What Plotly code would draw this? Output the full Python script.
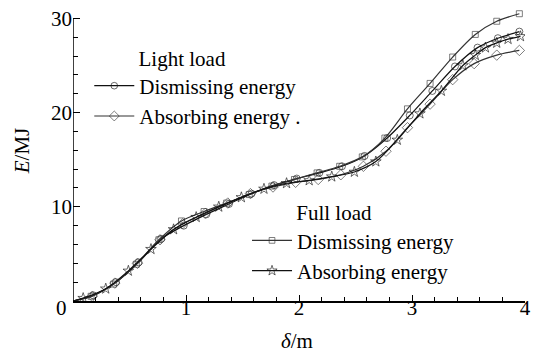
import plotly.graph_objects as go

# Displacement δ (m) and energy E (MJ) for each loading case
light_dis_x = [0, 0.18, 0.38, 0.58, 0.78, 0.98, 1.18, 1.38, 1.58, 1.78, 1.98, 2.18, 2.38,
               2.58, 2.78, 2.98, 3.18, 3.38, 3.58, 3.76, 3.95]
light_dis_e = [0, 0.6, 2.0, 4.1, 6.6, 8.0, 9.2, 10.3, 11.4, 12.3, 13.0, 13.6, 14.3,
               15.4, 17.3, 19.7, 22.3, 24.9, 26.9, 27.9, 28.6]

light_abs_x = [0, 0.17, 0.37, 0.57, 0.77, 0.97, 1.17, 1.37, 1.57, 1.77, 1.97, 2.17, 2.37,
               2.57, 2.77, 2.96, 3.16, 3.36, 3.55, 3.75, 3.95]
light_abs_e = [0, 0.5, 1.9, 4.0, 6.5, 8.2, 9.3, 10.4, 11.4, 12.1, 12.6, 12.9, 13.4,
               14.3, 15.9, 18.4, 20.9, 23.5, 25.2, 26.1, 26.6]

full_dis_x = [0, 0.16, 0.36, 0.56, 0.76, 0.96, 1.16, 1.36, 1.56, 1.76, 1.96, 2.16, 2.36,
              2.56, 2.76, 2.96, 3.16, 3.36, 3.56, 3.75, 3.95]
full_dis_e = [0, 0.5, 1.8, 3.9, 6.5, 8.5, 9.5, 10.4, 11.3, 12.2, 12.9, 13.6, 14.3,
              15.3, 17.3, 20.4, 23.1, 25.9, 28.3, 29.7, 30.5]

full_abs_x = [0, 0.09, 0.29, 0.49, 0.69, 0.89, 1.09, 1.29, 1.49, 1.69, 1.89, 2.09, 2.29,
              2.49, 2.68, 2.87, 3.07, 3.26, 3.45, 3.56, 3.65, 3.75, 3.85, 3.96]
full_abs_e = [0, 0.3, 1.3, 3.2, 5.5, 7.6, 8.9, 10.0, 11.0, 11.9, 12.5, 12.8, 13.2,
              13.7, 14.8, 17.1, 19.9, 22.3, 25.0, 26.1, 26.9, 27.4, 27.8, 28.1]

x_ticks = [1, 2, 3, 4]
y_ticks = [10, 20, 30]

SERIF = "Liberation Serif"
FS = 21


def sizes(xs, s):
    # no marker drawn at the origin point
    return [0 if v == 0 else s for v in xs]


fig = go.Figure()

series = [
    (light_dis_x, light_dis_e, "Dismissing energy", "circle-open", 7, "#111", "legend"),
    (light_abs_x, light_abs_e, "Absorbing energy .", "diamond-open", 8, "#333", "legend"),
    (full_dis_x, full_dis_e, "Dismissing energy", "square-open", 6, "#333", "legend2"),
    (full_abs_x, full_abs_e, "Absorbing energy", "star-open", 8, "#111", "legend2"),
]
for xs, ys, name, sym, ms, col, leg in series:
    fig.add_trace(go.Scatter(
        x=xs, y=ys, name=name, mode="lines+markers", legend=leg,
        line=dict(color=col, width=1.2, shape="spline", smoothing=0.8),
        marker=dict(symbol=sym, size=sizes(xs, ms), color=col, line=dict(width=0.9, color=col)),
    ))

# y range runs a little past 30 so the top of the full-load curve stays visible;
# the drawn axis line itself stops at 30
Y_TOP = 31
TOP = 16 - 9.5 * (Y_TOP - 30)
PH = 301 - TOP


def py(px):
    # pixel row -> paper fraction
    return (301 - px) / PH


fig.update_layout(
    width=544, height=354,
    margin=dict(l=73, r=19, t=TOP, b=53),
    paper_bgcolor="white", plot_bgcolor="white",
    showlegend=True,
    legend=dict(
        x=0.036, y=py(36), xanchor="left", yanchor="top",
        bgcolor="rgba(0,0,0,0)", itemwidth=40, tracegroupgap=0,
        title=dict(text="&nbsp;" * 9 + "Light load",
                   font=dict(family=SERIF, size=FS, color="black")),
        font=dict(family=SERIF, size=FS, color="black"),
    ),
    legend2=dict(
        x=0.385, y=py(192), xanchor="left", yanchor="top",
        bgcolor="rgba(0,0,0,0)", itemwidth=40, tracegroupgap=0,
        title=dict(text="&nbsp;" * 9 + "Full load",
                   font=dict(family=SERIF, size=FS, color="black")),
        font=dict(family=SERIF, size=FS, color="black"),
    ),
    xaxis=dict(
        range=[0, 4], tickvals=x_ticks, ticks="inside", ticklen=6, tickwidth=1,
        tickcolor="black", showline=True, linecolor="black", linewidth=1.5,
        showgrid=False, zeroline=False, ticklabelstandoff=-13,
        tickfont=dict(family=SERIF, size=FS, color="black"),
        minor=dict(dtick=0.2, ticks="inside", ticklen=4, tickcolor="black", showgrid=False),
    ),
    yaxis=dict(
        range=[0, Y_TOP], tickvals=y_ticks, ticks="inside", ticklen=7, tickwidth=1,
        tickcolor="black", showline=False,
        showgrid=False, zeroline=False,
        tickfont=dict(family=SERIF, size=FS, color="black"),
        minor=dict(dtick=2, ticks="inside", ticklen=5, tickcolor="black", showgrid=False),
    ),
)

# y axis line from 0 to 30
fig.add_shape(type="line", xref="x", yref="y", x0=0, x1=0, y0=0, y1=30,
              line=dict(color="black", width=1.5))

# axis titles and the shared corner "0"
pw = 544 - 73 - 19
fig.add_annotation(text="0", x=0, y=0, xref="x", yref="y", xanchor="right", yanchor="middle",
                   xshift=-4, yshift=-7, showarrow=False,
                   font=dict(family=SERIF, size=FS, color="black"))
fig.add_annotation(text="<i>E</i>/MJ", x=(22 - 73) / pw, y=py(150),
                   xref="paper", yref="paper", xanchor="center", yanchor="middle",
                   textangle=-90, showarrow=False,
                   font=dict(family=SERIF, size=FS, color="black"))
fig.add_annotation(text="<i>δ</i>/m", x=(297 - 73) / pw, y=py(341),
                   xref="paper", yref="paper", xanchor="center", yanchor="middle",
                   showarrow=False,
                   font=dict(family=SERIF, size=FS, color="black"))

fig.write_html("out.html")
